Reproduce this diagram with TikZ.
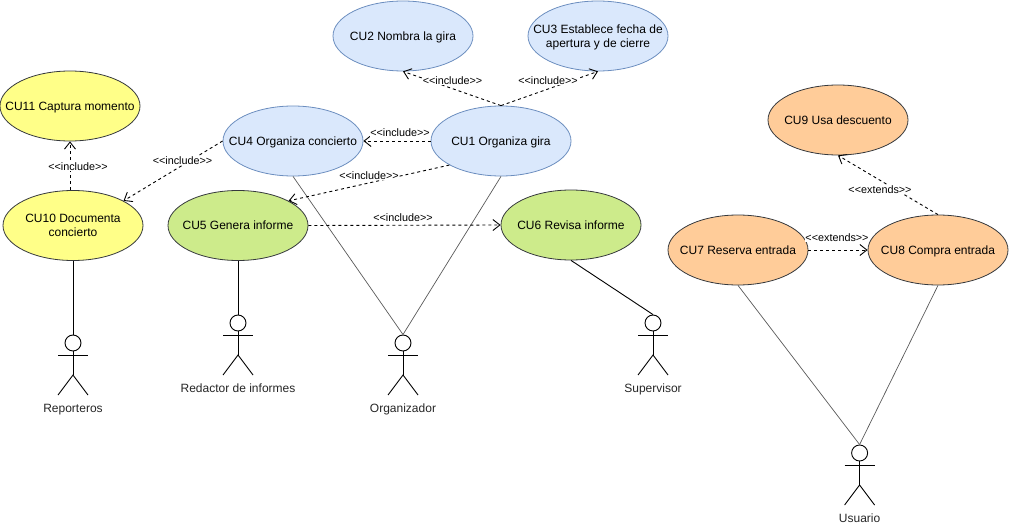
\documentclass[tikz,border=0pt]{standalone}
\usepackage{fontspec}
\setmainfont{Liberation Sans}
\usetikzlibrary{arrows.meta,shapes.geometric}
\definecolor{bluefill}{HTML}{DAE8FC}
\definecolor{blueline}{HTML}{6C8EBF}
\definecolor{yellowfill}{HTML}{FFFF88}
\definecolor{greenfill}{HTML}{CDEB8B}
\definecolor{orangefill}{HTML}{FFCC99}
\definecolor{darkline}{HTML}{36393D}
\tikzset{
  usecase/.style={ellipse,draw,line width=.8pt,minimum width=140pt,minimum height=70pt,inner sep=-30pt,align=center,text depth=0pt,font=\fontsize{12}{14.2}\selectfont},
  bluecase/.style={usecase,fill=bluefill,draw=blueline},
  yellowcase/.style={usecase,fill=yellowfill,draw=darkline},
  greencase/.style={usecase,fill=greenfill,draw=darkline},
  orangecase/.style={usecase,fill=orangefill,draw=darkline},
  depend/.style={dashed,dash pattern=on 3pt off 3pt,line width=.9pt,-{Straight Barb[length=7pt,width=11pt]}},
  stereo/.style={fill=white,inner sep=.5pt,font=\fontsize{10.8}{12}\selectfont},
  assoc/.style={line width=.9pt},
  lightassoc/.style={line width=.7pt,color=black!65},
  head/.style={circle,draw,line width=.9pt,minimum size=16pt,inner sep=0pt},
  actorname/.style={text height=8.6pt,text depth=0pt,font=\fontsize{12}{14}\selectfont,color=black!85}
}
\begin{document}
\begin{tikzpicture}[x=1pt,y=-1pt]
\useasboundingbox (0,0) rectangle (1009,524);
% casos de uso
\node[bluecase](cu2)at(403,36){CU2 Nombra la gira};
\node[bluecase](cu3)at(598,36){CU3 Establece fecha de\\apertura y de cierre};
\node[bluecase](cu1)at(501,141){CU1 Organiza gira};
\node[bluecase](cu4)at(293,141){CU4 Organiza concierto};
\node[yellowcase](cu11)at(70,106){CU11 Captura momento};
\node[yellowcase](cu10)at(73,225.5){CU10 Documenta\\concierto};
\node[greencase](cu5)at(238,225.5){CU5 Genera informe};
\node[greencase](cu6)at(571,225){CU6 Revisa informe};
\node[orangecase](cu9)at(838,120){CU9 Usa descuento};
\node[orangecase](cu7)at(738,250){CU7 Reserva entrada};
\node[orangecase](cu8)at(938,250){CU8 Compra entrada};
% actores
\foreach \name/\x/\y/\label in {rep/73/343/Reporteros,red/238/323/Redactor de informes,org/403/343/Organizador,sup/653/323/Supervisor,usu/859.6/453/Usuario}{
  \node[head](\name)at(\x,\y){};
  \draw[line width=.9pt](\name.south)--(\x,\y+32);
  \draw[line width=.9pt](\x-15,\y+12)--(\x+15,\y+12);
  \draw[line width=.9pt](\x-15,\y+52)--(\x,\y+32)--(\x+15,\y+52);
  \node[actorname](\name label)at(\x,\y+65){\label};
}
% asociaciones
\draw[assoc](cu10.south)--(rep.north);
\draw[assoc](cu5.south)--(red.north);
\draw[assoc](cu6.south)--(sup.north);
\draw[lightassoc](cu4.south)--(org.north);
\draw[lightassoc](cu1.south)--(org.north);
\draw[lightassoc](cu7.south)--(usu.north);
\draw[lightassoc](cu8.south)--(usu.north);
% dependencias
\draw[depend](cu1.north)--(cu2.south);
\draw[depend](cu1.north)--(cu3.south);
\draw[depend](cu1.west)--(cu4.east);
\draw[depend](cu1.205)--(cu5.26);
\draw[depend](cu4.west)--(cu10.26);
\draw[depend](cu10.north-|cu11)--(cu11.south);
\draw[depend](cu5.east)--(cu6.west);
\draw[depend](cu8.north)--(cu9.south);
\draw[depend](cu7.east)--(cu8.west);
% etiquetas
\node[stereo](inc2)at(452.5,80.5){<{}<include>{}>};
\node[stereo](inc3)at(548,80.5){<{}<include>{}>};
\node[stereo](inc4)at(400,132.5){<{}<include>{}>};
\node[stereo](inc5)at(369,175.5){<{}<include>{}>};
\node[stereo](inc10)at(182.5,160.5){<{}<include>{}>};
\node[stereo](inc11)at(78,166.5){<{}<include>{}>};
\node[stereo](inc6)at(403,217.5){<{}<include>{}>};
\node[stereo](ext9)at(880,189.5){<{}<extends>{}>};
\node[stereo](ext8)at(837,237.5){<{}<extends>{}>};
\end{tikzpicture}
\end{document}
